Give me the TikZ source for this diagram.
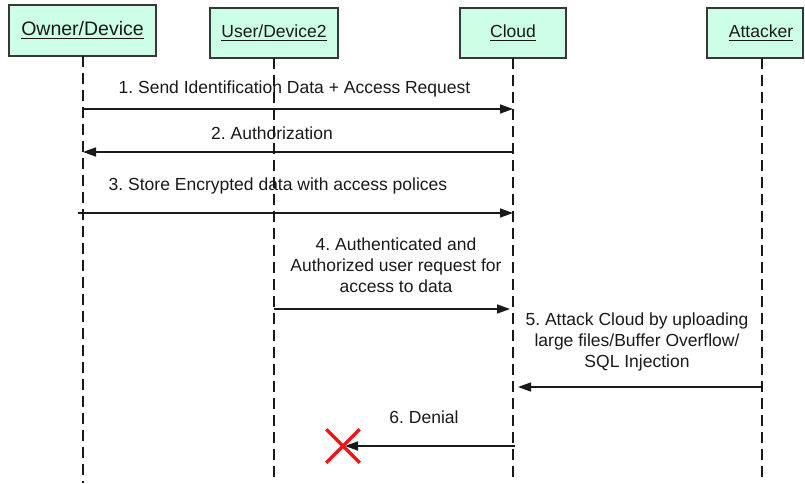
\documentclass[tikz,border=0pt]{standalone}
\usepackage{fontspec}
\setmainfont{Liberation Sans}
\usetikzlibrary{arrows.meta,shapes.misc}
\frenchspacing
\definecolor{mint}{RGB}{204,255,229}
\definecolor{ink}{RGB}{25,25,25}
\definecolor{frame}{RGB}{55,55,55}
\definecolor{denyred}{RGB}{240,20,20}
% underlined header text with a thicker rule
\newcommand\ulined[1]{\setbox0\hbox{#1}\leavevmode\rlap{\rule[-4pt]{\wd0}{1.3pt}}\box0}
\begin{document}
\begin{tikzpicture}[x=1pt,y=-1pt,
  actor/.style={draw=frame, line width=1.6pt, fill=mint, inner sep=0pt},
  lifeline/.style={draw=ink, line width=1.8pt, dash pattern=on 11pt off 6pt},
  msg/.style={draw=ink, line width=1.6pt, -{Triangle[length=13pt,width=9pt]}},
  lbl/.style={font=\fontsize{17.5}{21}\selectfont, text=ink, align=center, anchor=base, inner sep=0pt},
  bigl/.style={lbl, font=\fontsize{19.5}{23}\selectfont},
]
\useasboundingbox (0,0) rectangle (805,483);

% participant boxes
\node[actor, minimum width=147pt, minimum height=51pt] (own) at (82.5,30.5) {};
\node[actor, minimum width=128pt, minimum height=50pt] (usr) at (274,33) {};
\node[actor, minimum width=106pt, minimum height=50pt] (cld) at (513,33) {};
\node[actor, minimum width=96pt, minimum height=50pt] (att) at (755,33) {};

\node[bigl] (ownT) at (82.5,35) {\ulined{Owner/Device}};
\node[lbl] (usrT) at (274,37) {\ulined{User/Device2}};
\node[lbl] (cldT) at (513,37) {\ulined{Cloud}};
\node[lbl] (attT) at (761,37) {\ulined{Attacker}};

% lifelines
\coordinate (ownTop) at (83,56);
\coordinate (ownBot) at (83,483);
\coordinate (usrTop) at (274,58);
\coordinate (usrBot) at (274,483);
\coordinate (cldTop) at (513,58);
\coordinate (cldBot) at (513,483);
\coordinate (attTop) at (762,58);
\coordinate (attBot) at (762,483);
\draw[lifeline] (ownTop) -- (ownBot);
\draw[lifeline] (usrTop) -- (usrBot);
\draw[lifeline] (cldTop) -- (cldBot);
\draw[lifeline] (attTop) -- (attBot);

% message end points on the lifelines
\coordinate (o1) at (83,109);   \coordinate (c1) at (513,109);
\coordinate (c2) at (513,152);  \coordinate (o2) at (83,152);
\coordinate (o3) at (78,213);   \coordinate (c3) at (513,213);
\coordinate (u4) at (274,309);  \coordinate (c4) at (510,309);
\coordinate (a5) at (762,387);  \coordinate (c5) at (518,387);
\coordinate (c6) at (515,446);  \coordinate (x6) at (345,446);

% messages
\draw[msg] (o1) -- (c1);
\draw[msg] (c2) -- (o2);
\draw[msg] (o3) -- (c3);
\draw[msg] (u4) -- (c4);
\draw[msg] (a5) -- (c5);
\draw[msg] (c6) -- (x6);

% message labels (multi-line labels sit on the baseline of their last line)
\node[lbl] (m1) at (294.5,93) {1. Send Identification Data + Access Request};
\node[lbl] (m2) at (272,139) {2. Authorization};
\node[lbl] (m3) at (278,190) {3. Store Encrypted data with access polices};
\node[lbl] (m4) at (396,292) {4. Authenticated and\\Authorized user request for\\access to data};
\node[lbl] (m5) at (637,367) {5. Attack Cloud by uploading\\large files/Buffer Overflow/\\SQL Injection};
\node[lbl] (m6) at (424,423) {6. Denial};

% rejected request
\node[cross out, draw=denyred, line width=3.5pt, minimum width=30pt, minimum height=30pt, inner sep=0pt] (deny) at (343,446) {};
\end{tikzpicture}
\end{document}
